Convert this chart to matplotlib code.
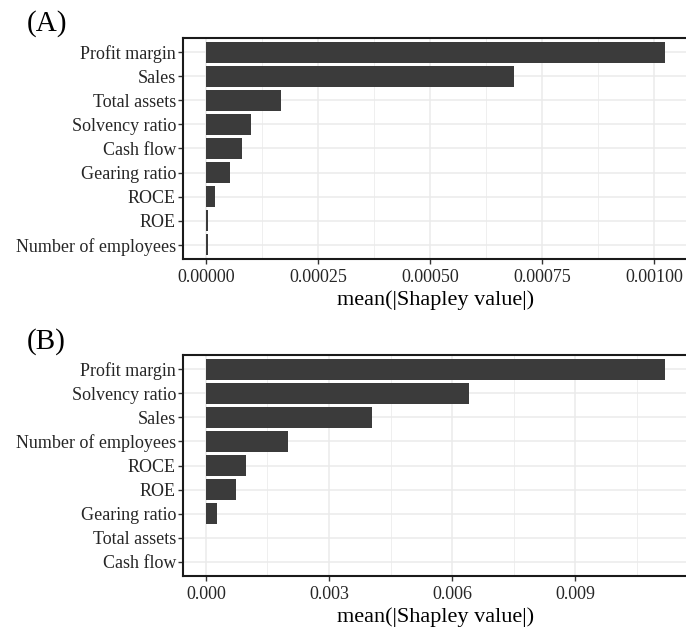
import matplotlib
matplotlib.use('Agg')
import matplotlib.pyplot as plt
import numpy as np
from matplotlib.ticker import FixedLocator

plt.rcParams['font.family'] = ['Liberation Serif', 'DejaVu Serif']

# panel (A) - ordered top to bottom
features_a = ['Profit margin', 'Sales', 'Total assets', 'Solvency ratio', 'Cash flow',
              'Gearing ratio', 'ROCE', 'ROE', 'Number of employees']
shap_a = [0.001024, 0.000687, 0.000167, 0.0000998, 0.0000797,
          0.0000536, 0.0000201, 0.0000045, 0.000004]

# panel (B) - ordered top to bottom
features_b = ['Profit margin', 'Solvency ratio', 'Sales', 'Number of employees', 'ROCE',
              'ROE', 'Gearing ratio', 'Total assets', 'Cash flow']
shap_b = [0.01119, 0.006415, 0.00405, 0.002007, 0.000968,
          0.000724, 0.00026, 0.0, 0.0]

ticks_a = [0.0, 0.00025, 0.0005, 0.00075, 0.001]
ticklabels_a = ['0.00000', '0.00025', '0.00050', '0.00075', '0.00100']
ticks_b = [0.0, 0.003, 0.006, 0.009]
ticklabels_b = ['0.000', '0.003', '0.006', '0.009']

bar_colour = '#3b3b3b'
grid_colour = '#ebebeb'

fig = plt.figure(figsize=(6.86, 6.29), dpi=100)
ax_a = fig.add_axes([183 / 686, 1 - 259 / 629, 505 / 686, 221 / 629])
ax_b = fig.add_axes([183 / 686, 1 - 576 / 629, 505 / 686, 221 / 629])


def shap_panel(ax, features, values, ticks, ticklabels, minor_step):
    n = len(features)
    ypos = np.arange(n, 0, -1)
    ax.barh(ypos, values, height=0.9, color=bar_colour, zorder=3)
    vmax = max(values)
    ax.set_xlim(-0.05 * vmax, 1.05 * vmax)
    ax.set_ylim(0.4, n + 0.6)
    ax.set_yticks(ypos)
    ax.set_yticklabels(features)
    ax.set_xticks(ticks)
    ax.set_xticklabels(ticklabels)
    ax.xaxis.set_minor_locator(FixedLocator(np.arange(minor_step, 1.05 * vmax, 2 * minor_step)))
    ax.grid(which='major', color=grid_colour, linewidth=1.1, zorder=0)
    ax.grid(which='minor', axis='x', color=grid_colour, linewidth=0.55, zorder=0)
    ax.set_axisbelow(True)
    ax.tick_params(axis='both', which='major', labelsize=13, length=3.6, width=1.0,
                   color='#333333', labelcolor='#262626')
    ax.tick_params(axis='y', which='major', pad=1.5)
    ax.tick_params(axis='x', which='major', pad=3.5)
    ax.tick_params(axis='x', which='minor', length=0)
    for s in ax.spines.values():
        s.set_color('#1a1a1a')
        s.set_linewidth(1.5)
    ax.set_xlabel('mean(|Shapley value|)', fontsize=16, labelpad=3)


shap_panel(ax_a, features_a, shap_a, ticks_a, ticklabels_a, 0.000125)
shap_panel(ax_b, features_b, shap_b, ticks_b, ticklabels_b, 0.0015)

fig.text(27 / 686, 1 - 24 / 629, '(A)', fontsize=21, ha='left', va='center')
fig.text(27 / 686, 1 - 342 / 629, '(B)', fontsize=21, ha='left', va='center')

fig.savefig('out.png', dpi=100)
